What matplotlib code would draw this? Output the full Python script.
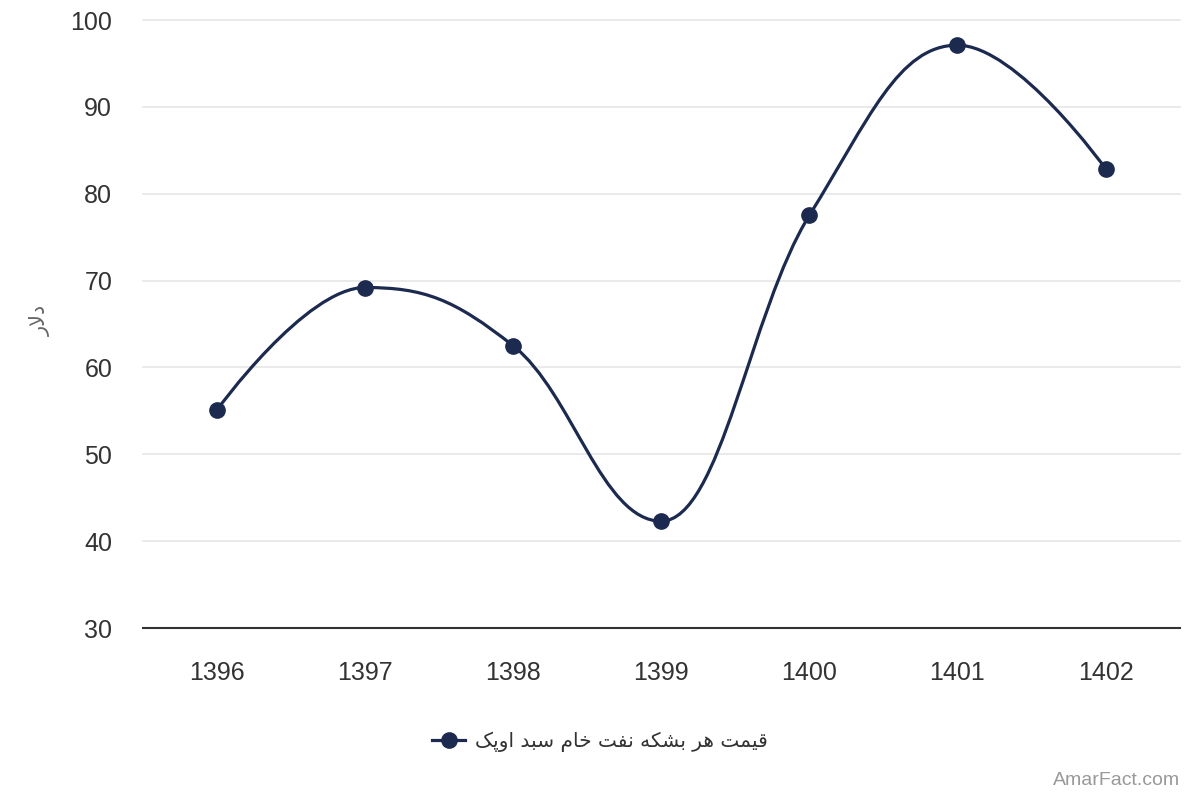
import numpy as np
import matplotlib
matplotlib.use('Agg')
import matplotlib.pyplot as plt
from matplotlib.path import Path
from matplotlib.patches import PathPatch
from matplotlib.lines import Line2D

years = ['1396', '1397', '1398', '1399', '1400', '1401', '1402']
prices = [55.1, 69.2, 62.5, 42.3, 77.5, 97.1, 82.9]
series_name = 'قیمت هر بشکه نفت خام سبد اوپک'
y_title = 'دلار'
credit = 'AmarFact.com'
y_ticks = [30, 40, 50, 60, 70, 80, 90, 100]

LINE_COLOR = '#1b2a4e'

# small arabic/persian shaper: isolated, final, initial, medial
FORMS = {
    '\u0627': ('\uFE8D', '\uFE8E', None, None),
    '\u0628': ('\uFE8F', '\uFE90', '\uFE91', '\uFE92'),
    '\u062A': ('\uFE95', '\uFE96', '\uFE97', '\uFE98'),
    '\u062E': ('\uFEA5', '\uFEA6', '\uFEA7', '\uFEA8'),
    '\u062F': ('\uFEA9', '\uFEAA', None, None),
    '\u0631': ('\uFEAD', '\uFEAE', None, None),
    '\u0633': ('\uFEB1', '\uFEB2', '\uFEB3', '\uFEB4'),
    '\u0634': ('\uFEB5', '\uFEB6', '\uFEB7', '\uFEB8'),
    '\u0641': ('\uFED1', '\uFED2', '\uFED3', '\uFED4'),
    '\u0642': ('\uFED5', '\uFED6', '\uFED7', '\uFED8'),
    '\u0644': ('\uFEDD', '\uFEDE', '\uFEDF', '\uFEE0'),
    '\u0645': ('\uFEE1', '\uFEE2', '\uFEE3', '\uFEE4'),
    '\u0646': ('\uFEE5', '\uFEE6', '\uFEE7', '\uFEE8'),
    '\u0647': ('\uFEE9', '\uFEEA', '\uFEEB', '\uFEEC'),
    '\u0648': ('\uFEED', '\uFEEE', None, None),
    '\u067E': ('\uFB56', '\uFB57', '\uFB58', '\uFB59'),
    '\u06A9': ('\uFB8E', '\uFB8F', '\uFB90', '\uFB91'),
    '\u06CC': ('\uFBFC', '\uFBFD', '\uFBFE', '\uFBFF'),
}


def shape(text):
    # lam-alef ligature first
    chars = []
    i = 0
    while i < len(text):
        if text[i] == '\u0644' and i + 1 < len(text) and text[i + 1] == '\u0627':
            chars.append('LA')
            i += 2
        else:
            chars.append(text[i])
            i += 1

    def joins_next(c):
        return c in FORMS and FORMS[c][2] is not None

    def joins_prev(c):
        return c in FORMS or c == 'LA'

    out = []
    for k, c in enumerate(chars):
        prev = chars[k - 1] if k > 0 else None
        nxt = chars[k + 1] if k + 1 < len(chars) else None
        con_prev = prev is not None and joins_next(prev)
        if c == 'LA':
            out.append('\uFEFC' if con_prev else '\uFEFB')
            continue
        if c not in FORMS:
            out.append(c)
            continue
        isol, fin, ini, med = FORMS[c]
        con_next = nxt is not None and joins_prev(nxt) and ini is not None
        if con_prev and con_next:
            out.append(med)
        elif con_prev:
            out.append(fin)
        elif con_next:
            out.append(ini)
        else:
            out.append(isol)
    return ''.join(out)[::-1]


def spline_path(xs, ys, smoothing=1.5):
    # highcharts style spline
    n = len(xs)
    left = [None] * n
    right = [None] * n
    denom = smoothing + 1
    for i in range(1, n - 1):
        lx, ly = xs[i - 1], ys[i - 1]
        px, py = xs[i], ys[i]
        nx, ny = xs[i + 1], ys[i + 1]
        lcx = (smoothing * px + lx) / denom
        lcy = (smoothing * py + ly) / denom
        rcx = (smoothing * px + nx) / denom
        rcy = (smoothing * py + ny) / denom
        corr = ((rcy - lcy) * (rcx - px)) / (rcx - lcx) + py - rcy
        lcy += corr
        rcy += corr
        if lcy > ly and lcy > py:
            lcy = max(ly, py)
            rcy = 2 * py - lcy
        elif lcy < ly and lcy < py:
            lcy = min(ly, py)
            rcy = 2 * py - lcy
        if rcy > ny and rcy > py:
            rcy = max(ny, py)
            lcy = 2 * py - rcy
        elif rcy < ny and rcy < py:
            rcy = min(ny, py)
            lcy = 2 * py - rcy
        left[i] = (lcx, lcy)
        right[i] = (rcx, rcy)
    left[n - 1] = (xs[n - 1], ys[n - 1])
    right[0] = (xs[0], ys[0])
    verts = [(xs[0], ys[0])]
    codes = [Path.MOVETO]
    for i in range(1, n):
        verts += [right[i - 1], left[i], (xs[i], ys[i])]
        codes += [Path.CURVE4] * 3
    return Path(verts, codes)


plt.rcParams['font.family'] = ['Liberation Sans', 'DejaVu Sans']

fig = plt.figure(figsize=(12, 8), dpi=100)
ax = fig.add_axes([0.119, 0.215, 0.864, 0.76])

x = np.arange(len(years))
path = spline_path(list(x), prices)
ax.add_patch(PathPatch(path, facecolor='none', edgecolor=LINE_COLOR, lw=2.3, zorder=3))
ax.plot(x, prices, linestyle='none', marker='o', markersize=11, color=LINE_COLOR, zorder=4)

ax.set_xlim(-0.5, len(years) - 0.5)
ax.set_ylim(30, 100)
ax.set_xticks(x)
ax.set_xticklabels(years)
ax.set_yticks(y_ticks)
ax.tick_params(axis='both', length=0, labelsize=18, colors='#333333')
ax.tick_params(axis='x', pad=24)
ax.tick_params(axis='y', pad=22)
ax.grid(axis='y', color='#e6e6e6', lw=1.2)
for gl in ax.get_ygridlines():
    gl.set_clip_on(False)
ax.set_axisbelow(True)
for s in ['top', 'right', 'left']:
    ax.spines[s].set_visible(False)
ax.spines['bottom'].set_color('#333333')
ax.spines['bottom'].set_linewidth(1.5)
ax.spines['bottom'].set_zorder(2)

fig.text(0.034, 0.6, shape(y_title), rotation=90, ha='center', va='center',
         fontsize=15, color='#666666', family=['DejaVu Sans'])

handle = Line2D([], [], color=LINE_COLOR, lw=2.3, marker='o', markersize=11)
leg = fig.legend([handle], [shape(series_name)], loc='center', bbox_to_anchor=(0.5, 0.073),
                 frameon=False, handlelength=1.6, handletextpad=0.5,
                 prop={'family': ['DejaVu Sans'], 'size': 14.5})
for t in leg.get_texts():
    t.set_color('#333333')

fig.text(0.983, 0.014, credit, ha='right', va='bottom', fontsize=14, color='#999999')

fig.savefig('out.png', dpi=100)
